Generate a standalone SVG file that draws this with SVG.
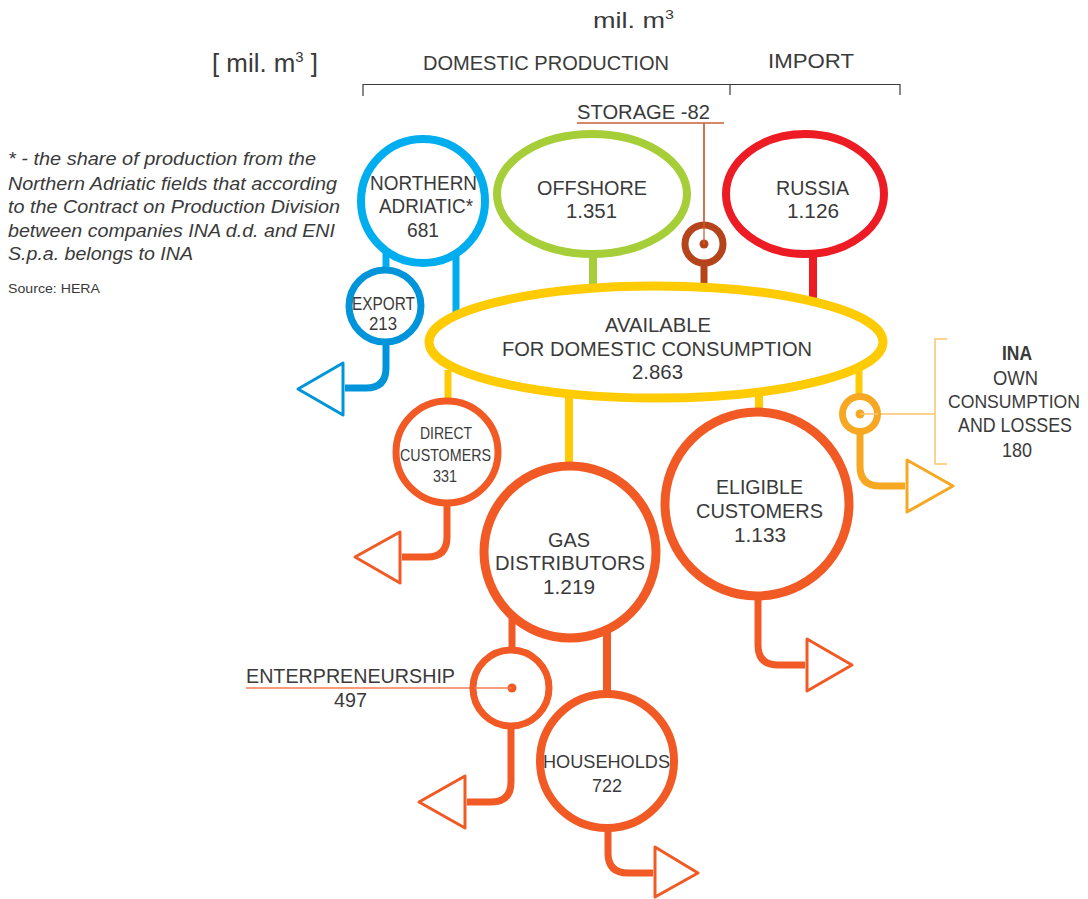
<svg xmlns="http://www.w3.org/2000/svg" width="1088" height="899" viewBox="0 0 1088 899">
  <style>
    text { font-family: "Liberation Sans", Arial, sans-serif; fill: #3a3a3a; }
    .lbl { font-size: 20px; }
    .note { font-size: 18px; font-style: italic; }
    .ring { fill: #fff; }
    .stem { fill: none; stroke-linecap: butt; }
    .tri { fill: #fff; stroke-width: 3; stroke-linejoin: round; }
  </style>

  <!-- header and unit captions -->
  <g id="header">
    <text x="593" y="28" font-size="22" textLength="81" lengthAdjust="spacingAndGlyphs">mil. m<tspan font-size="13" dy="-9">3</tspan></text>
    <text x="212" y="72" font-size="26" textLength="106" lengthAdjust="spacingAndGlyphs">[ mil. m<tspan font-size="15" dy="-10">3</tspan><tspan dy="10"> ]</tspan></text>
    <text x="423" y="70" class="lbl" textLength="246" lengthAdjust="spacingAndGlyphs">DOMESTIC PRODUCTION</text>
    <text x="768" y="68" class="lbl" textLength="86" lengthAdjust="spacingAndGlyphs">IMPORT</text>
    <path d="M363 96 V84.5 H900 V95 M730 84.5 V95" fill="none" stroke="#3a3a3a" stroke-width="1.2"/>
  </g>

  <!-- footnote -->
  <g id="footnote">
    <text x="8" y="165" class="note" textLength="308" lengthAdjust="spacingAndGlyphs">* - the share of production from the</text>
    <text x="8" y="190" class="note" textLength="329" lengthAdjust="spacingAndGlyphs">Northern Adriatic fields that according</text>
    <text x="8" y="213" class="note" textLength="332" lengthAdjust="spacingAndGlyphs">to the Contract on Production Division</text>
    <text x="8" y="237" class="note" textLength="327" lengthAdjust="spacingAndGlyphs">between companies INA d.d. and ENI</text>
    <text x="8" y="260" class="note" textLength="185" lengthAdjust="spacingAndGlyphs">S.p.a. belongs to INA</text>
    <text x="8" y="293" font-size="13" textLength="92" lengthAdjust="spacingAndGlyphs">Source: HERA</text>
  </g>

  <!-- connectors -->
  <g id="connectors">
    <!-- inflows -->
    <path class="stem" d="M386 250 V272" stroke="#00aeef" stroke-width="7"/>
    <path class="stem" d="M456 255 V318" stroke="#00aeef" stroke-width="7"/>
    <path class="stem" d="M593 255 V290" stroke="#a6ce39" stroke-width="8"/>
    <path class="stem" d="M704 262 V290" stroke="#b5441b" stroke-width="7"/>
    <path class="stem" d="M813 255 V300" stroke="#ed1c24" stroke-width="8"/>
    <!-- storage callout -->
    <path d="M577 123 H724 M704 123 V244" fill="none" stroke="#c9603a" stroke-width="1.3"/>
    <!-- outflows from the available pool -->
    <path class="stem" d="M448 370 V402" stroke="#ffcb05" stroke-width="7"/>
    <path class="stem" d="M569 390 V466" stroke="#ffcb05" stroke-width="8"/>
    <path class="stem" d="M759 390 V412" stroke="#ffcb05" stroke-width="8"/>
    <path class="stem" d="M859 370 V397" stroke="#ffcb05" stroke-width="7"/>
    <!-- gas distributors split -->
    <path class="stem" d="M512 615 V650" stroke="#f15a24" stroke-width="7"/>
    <path class="stem" d="M607 625 V694" stroke="#f15a24" stroke-width="8"/>
    <!-- callout lines -->
    <path d="M246 688 H512" fill="none" stroke="#f47b50" stroke-width="1.3"/>
    <path d="M860 414 H935 M947 339 H935 V464 H947" fill="none" stroke="#fbc36b" stroke-width="1.5"/>
    <!-- exit arrows -->
    <path class="stem" d="M386 340 V368 Q386 388 366 388 H345" stroke="#0095da" stroke-width="7"/>
    <polygon class="tri" points="343,363 343,415 298,389" stroke="#0095da"/>
    <path class="stem" d="M447 504 V537 Q447 557 427 557 H402" stroke="#f15a24" stroke-width="7"/>
    <polygon class="tri" points="400,532 400,583 355,557" stroke="#f15a24"/>
    <path class="stem" d="M511 727 V782 Q511 802 491 802 H467" stroke="#f15a24" stroke-width="7"/>
    <polygon class="tri" points="465,776 465,828 419,802" stroke="#f15a24"/>
    <path class="stem" d="M608 829 V853 Q608 873 628 873 H653" stroke="#f15a24" stroke-width="7"/>
    <polygon class="tri" points="655,847 655,897 698,873" stroke="#f15a24"/>
    <path class="stem" d="M758 596 V645 Q758 665 778 665 H805" stroke="#f15a24" stroke-width="7"/>
    <polygon class="tri" points="807,639 807,691 852,665" stroke="#f15a24"/>
    <path class="stem" d="M860 432 V466 Q860 486 880 486 H905" stroke="#f7a823" stroke-width="7"/>
    <polygon class="tri" points="907,460 907,512 953,486" stroke="#f7a823"/>
  </g>

  <!-- sources -->
  <g id="northern-adriatic">
    <circle class="ring" cx="423" cy="201" r="62" stroke="#00aeef" stroke-width="8"/>
    <text x="370" y="190" class="lbl" textLength="107" lengthAdjust="spacingAndGlyphs">NORTHERN</text>
    <text x="379" y="213" class="lbl" textLength="94" lengthAdjust="spacingAndGlyphs">ADRIATIC*</text>
    <text x="407" y="237" class="lbl" textLength="32" lengthAdjust="spacingAndGlyphs">681</text>
  </g>
  <g id="offshore">
    <ellipse class="ring" cx="592" cy="194" rx="95" ry="60" stroke="#a6ce39" stroke-width="8"/>
    <text x="537" y="195" class="lbl" textLength="110" lengthAdjust="spacingAndGlyphs">OFFSHORE</text>
    <text x="566" y="218" class="lbl" textLength="51" lengthAdjust="spacingAndGlyphs">1.351</text>
  </g>
  <g id="russia">
    <ellipse class="ring" cx="805" cy="194" rx="79" ry="60" stroke="#ed1c24" stroke-width="8"/>
    <text x="776" y="195" class="lbl" textLength="73" lengthAdjust="spacingAndGlyphs">RUSSIA</text>
    <text x="787" y="218" class="lbl" textLength="52" lengthAdjust="spacingAndGlyphs">1.126</text>
  </g>
  <g id="storage">
    <text x="577" y="119" class="lbl" textLength="133" lengthAdjust="spacingAndGlyphs">STORAGE -82</text>
    <circle class="ring" cx="704" cy="244" r="19" stroke="#b5441b" stroke-width="7"/>
    <circle cx="704" cy="244" r="4.5" fill="#b5441b"/>
    <path d="M704 123 V244" stroke="#c9603a" stroke-width="1.3"/>
  </g>
  <g id="export">
    <circle class="ring" cx="385" cy="306" r="36" stroke="#0095da" stroke-width="7"/>
    <text x="352" y="310" font-size="18" textLength="63" lengthAdjust="spacingAndGlyphs">EXPORT</text>
    <text x="369" y="330" font-size="18" textLength="28" lengthAdjust="spacingAndGlyphs">213</text>
  </g>

  <!-- pool -->
  <g id="available">
    <ellipse class="ring" cx="656" cy="342" rx="227" ry="56" stroke="#ffcb05" stroke-width="9"/>
    <text x="605" y="332" class="lbl" textLength="106" lengthAdjust="spacingAndGlyphs">AVAILABLE</text>
    <text x="502" y="356" class="lbl" textLength="310" lengthAdjust="spacingAndGlyphs">FOR DOMESTIC CONSUMPTION</text>
    <text x="632" y="379" class="lbl" textLength="51" lengthAdjust="spacingAndGlyphs">2.863</text>
  </g>

  <!-- consumers -->
  <g id="direct-customers">
    <circle class="ring" cx="447" cy="452" r="51" stroke="#f15a24" stroke-width="7"/>
    <text x="420" y="439" font-size="17" textLength="52" lengthAdjust="spacingAndGlyphs">DIRECT</text>
    <text x="400" y="461" font-size="17" textLength="91" lengthAdjust="spacingAndGlyphs">CUSTOMERS</text>
    <text x="433" y="482" font-size="17" textLength="24" lengthAdjust="spacingAndGlyphs">331</text>
  </g>
  <g id="gas-distributors">
    <circle class="ring" cx="570" cy="552" r="86" stroke="#f15a24" stroke-width="9"/>
    <text x="548" y="547" class="lbl" textLength="42" lengthAdjust="spacingAndGlyphs">GAS</text>
    <text x="495" y="570" class="lbl" textLength="150" lengthAdjust="spacingAndGlyphs">DISTRIBUTORS</text>
    <text x="543" y="594" class="lbl" textLength="52" lengthAdjust="spacingAndGlyphs">1.219</text>
  </g>
  <g id="eligible-customers">
    <circle class="ring" cx="757" cy="504" r="92" stroke="#f15a24" stroke-width="9"/>
    <text x="716" y="494" class="lbl" textLength="87" lengthAdjust="spacingAndGlyphs">ELIGIBLE</text>
    <text x="696" y="518" class="lbl" textLength="127" lengthAdjust="spacingAndGlyphs">CUSTOMERS</text>
    <text x="734" y="542" class="lbl" textLength="52" lengthAdjust="spacingAndGlyphs">1.133</text>
  </g>
  <g id="ina-own-consumption">
    <circle class="ring" cx="860" cy="414" r="17.5" stroke="#f7a823" stroke-width="7"/>
    <circle cx="860" cy="414" r="4.5" fill="#f7a823"/>
    <path d="M860 414 H878" stroke="#fbc36b" stroke-width="1.5"/>
    <text x="1002" y="360" class="lbl" font-weight="bold" fill="#2a2a2a" textLength="30" lengthAdjust="spacingAndGlyphs">INA</text>
    <text x="993" y="385" class="lbl" textLength="45" lengthAdjust="spacingAndGlyphs">OWN</text>
    <text x="948" y="408" font-size="18.5" textLength="132" lengthAdjust="spacingAndGlyphs">CONSUMPTION</text>
    <text x="958" y="432" class="lbl" textLength="114" lengthAdjust="spacingAndGlyphs">AND LOSSES</text>
    <text x="1002" y="457" class="lbl" textLength="30" lengthAdjust="spacingAndGlyphs">180</text>
  </g>
  <g id="entrepreneurship">
    <circle class="ring" cx="511" cy="688" r="38" stroke="#f15a24" stroke-width="7"/>
    <circle cx="512" cy="688" r="4.5" fill="#f15a24"/>
    <path d="M474 688 H512" stroke="#f47b50" stroke-width="1.3"/>
    <text x="246" y="683" class="lbl" textLength="209" lengthAdjust="spacingAndGlyphs">ENTERPRENEURSHIP</text>
    <text x="334" y="707" class="lbl" textLength="33" lengthAdjust="spacingAndGlyphs">497</text>
  </g>
  <g id="households">
    <circle class="ring" cx="607" cy="761" r="67" stroke="#f15a24" stroke-width="8"/>
    <text x="543" y="768" font-size="19" textLength="127" lengthAdjust="spacingAndGlyphs">HOUSEHOLDS</text>
    <text x="592" y="792" font-size="19" textLength="30" lengthAdjust="spacingAndGlyphs">722</text>
  </g>
</svg>
